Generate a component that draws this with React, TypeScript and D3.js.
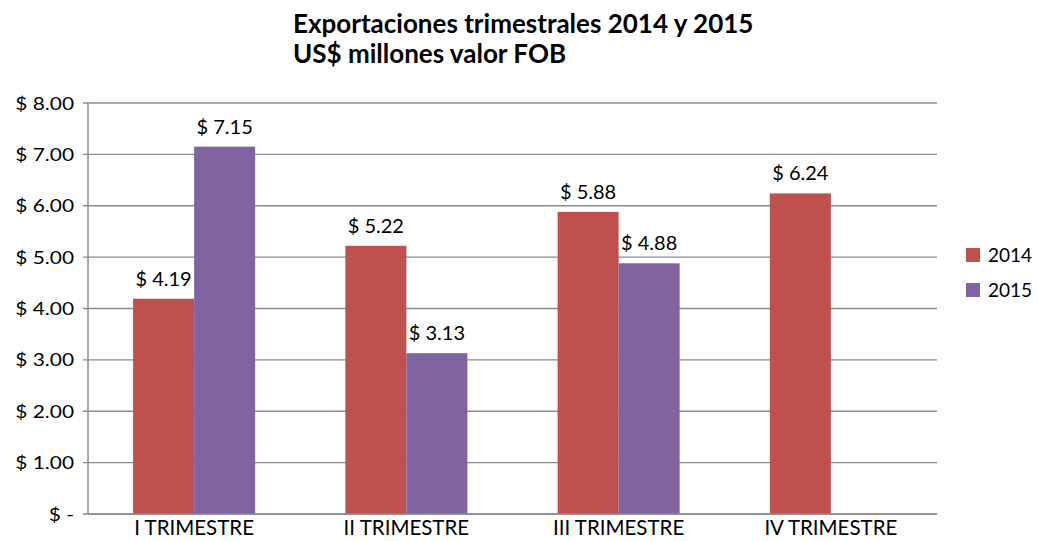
import React from "react";
import * as d3 from "d3";

const categories = ["I TRIMESTRE", "II TRIMESTRE", "III TRIMESTRE", "IV TRIMESTRE"];
const seriesNames = ["2014", "2015"];
const values2014: (number | null)[] = [4.19, 5.22, 5.88, 6.24];
const values2015: (number | null)[] = [7.15, 3.13, 4.88, null];
const yTicks = [0, 1, 2, 3, 4, 5, 6, 7, 8];
const colors = ["#C0504D", "#8064A2"];
const titleLines = ["Exportaciones trimestrales 2014 y 2015", "US$ millones valor FOB"];

const W = 1038, H = 541;
const m = { left: 88, right: 937, top: 103, bottom: 514 };
const font = "Lato, 'Open Sans', sans-serif";

export default function App() {
  const x = d3.scaleBand<string>().domain(categories).range([m.left, m.right]).paddingInner(0.425).paddingOuter(0.2125);
  const x1 = d3.scaleBand<string>().domain(seriesNames).range([0, x.bandwidth()]);
  const y = d3.scaleLinear().domain([0, 8]).range([m.bottom, m.top]);
  const series = [values2014, values2015];
  const fmtY = (v: number) => (v === 0 ? "$ -" : `$ ${v.toFixed(2)}`);
  return (
    <svg width={W} height={H} style={{ position: "absolute", left: 0, top: 0, background: "#fff" }}>
      <rect width={W} height={H} fill="#fff" />
      {titleLines.map((t, i) => (
        <text key={i} x={293} y={33 + i * 30} fontFamily={font} fontWeight="bold" fontSize={26} fill="#000">{t}</text>
      ))}
      {yTicks.map((t) => (
        <g key={t}>
          <line x1={m.left - 5} x2={m.right} y1={y(t)} y2={y(t)} stroke="#8c8c8c" strokeWidth={1.3} />
          <text transform={`translate(74,${y(t) + 6.5}) scale(1.16,1)`} textAnchor="end" fontFamily={font} fontSize={18} fill="#000">{fmtY(t)}</text>
        </g>
      ))}
      <line x1={m.left} x2={m.left} y1={m.top} y2={m.bottom} stroke="#8c8c8c" strokeWidth={1.5} />
      {series.map((vals, si) =>
        vals.map((v, ci) => {
          if (v == null) return null;
          const bx = (x(categories[ci]) as number) + (x1(seriesNames[si]) as number);
          const bw = x1.bandwidth();
          return (
            <g key={`${si}-${ci}`}>
              <rect x={bx} y={y(v)} width={bw} height={y(0) - y(v)} fill={colors[si]} />
              <text x={bx + bw / 2} y={y(v) - 13} textAnchor="middle" fontFamily={font} fontSize={20} fill="#000">{`$ ${v.toFixed(2)}`}</text>
            </g>
          );
        })
      )}
      <line x1={m.left} x2={m.right} y1={m.bottom} y2={m.bottom} stroke="#8c8c8c" strokeWidth={1.5} />
      {categories.map((c) => (
        <text key={c} x={(x(c) as number) + x.bandwidth() / 2} y={535} textAnchor="middle" fontFamily={font} fontSize={20.5} fill="#000">{c}</text>
      ))}
      {seriesNames.map((s, i) => (
        <g key={s}>
          <rect x={966} y={248 + i * 35} width={14} height={14} fill={colors[i]} />
          <text x={988} y={262 + i * 35} fontFamily={font} fontSize={19} fill="#000">{s}</text>
        </g>
      ))}
    </svg>
  );
}
